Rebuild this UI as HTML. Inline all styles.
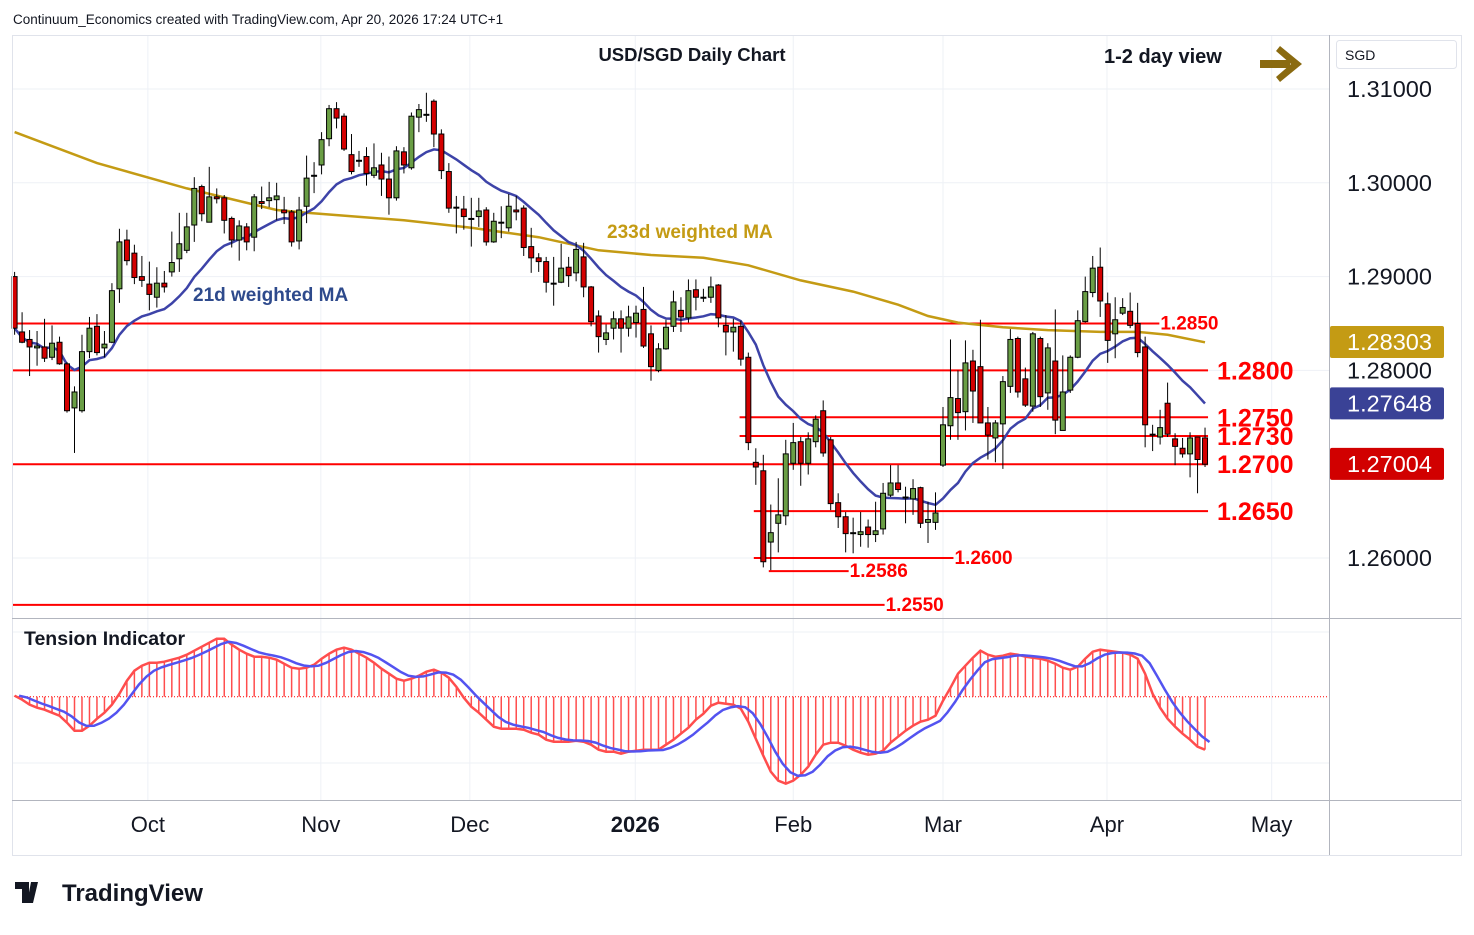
<!DOCTYPE html>
<html><head><meta charset="utf-8"><style>
html,body{margin:0;padding:0;background:#fff;}
body{width:1474px;height:930px;overflow:hidden;font-family:"Liberation Sans",sans-serif;}
svg text{font-family:"Liberation Sans",sans-serif;}
</style></head><body>
<svg id="chart" width="1474" height="930" xmlns="http://www.w3.org/2000/svg">
<rect x="0" y="0" width="1474" height="930" fill="#fff"/>
<text x="13" y="24" font-size="13.5" fill="#131722">Continuum_Economics created with TradingView.com, Apr 20, 2026 17:24 UTC+1</text>
<g id="grid"></g>
<g id="levels"></g>
<g id="mas"></g>
<g id="candles"></g>
<g id="tension"></g>
<rect x="12.5" y="35.5" width="1449" height="820" fill="none" stroke="#e0e3eb"/>
<line x1="1329.5" y1="35" x2="1329.5" y2="855" stroke="#b2b5be"/>
<line x1="12" y1="618.5" x2="1461" y2="618.5" stroke="#b2b5be"/>
<line x1="12" y1="800.5" x2="1461" y2="800.5" stroke="#b2b5be"/>
<text x="692" y="61" font-size="18.5" font-weight="bold" text-anchor="middle" fill="#131722">USD/SGD Daily Chart</text>
<text x="1104" y="63" font-size="20" font-weight="bold" fill="#131722">1-2 day view</text>
<g fill="#8a6a10">
<rect x="1260" y="60" width="30" height="8"/>
<polygon points="1280,46 1302,64 1280,82 1276,77 1291,64 1276,51"/>
</g>
<text x="607" y="238" font-size="19" font-weight="bold" fill="#c49b14">233d weighted MA</text>
<text x="193" y="301" font-size="19" font-weight="bold" fill="#2e4a8c">21d weighted MA</text>
<text x="24" y="645" font-size="19.5" font-weight="bold" fill="#131722">Tension Indicator</text>
<g><rect x="1336.5" y="40.5" width="120" height="28" rx="3" fill="#fff" stroke="#e0e3eb"/><text x="1345" y="60" font-size="14" fill="#131722">SGD</text></g>
<g id="axisy"></g>
<g id="axisx"></g>
<g>
<path d="M15 882h14v21h-7v-14h-7z M31 882h7l-5 21h-6z" fill="#131722"/>
<text x="62" y="901" font-size="24" font-weight="bold" fill="#131722">TradingView</text>
</g>
</svg>
<script>
const opens=[1.2900,1.2841,1.2833,1.2824,1.2825,1.2814,1.2830,1.2807,1.2760,1.2757,1.2820,1.2847,1.2824,1.2830,1.2887,1.2939,1.2925,1.2900,1.2892,1.2878,1.2893,1.2905,1.2919,1.2928,1.2955,1.2996,1.2958,1.2985,1.2984,1.2962,1.2939,1.2953,1.2942,1.2980,1.2981,1.2982,1.2971,1.2969,1.2938,1.2975,1.3008,1.3019,1.3047,1.3079,1.3071,1.3030,1.3024,1.3028,1.3008,1.3019,1.3004,1.2984,1.3033,1.3016,1.3070,1.3073,1.3087,1.3052,1.3012,1.2974,1.2972,1.2962,1.2964,1.2971,1.2937,1.2958,1.2952,1.2971,1.2973,1.2932,1.2920,1.2916,1.2893,1.2894,1.2910,1.2904,1.2921,1.2889,1.2858,1.2833,1.2845,1.2855,1.2845,1.2851,1.2865,1.2839,1.2800,1.2823,1.2847,1.2864,1.2856,1.2886,1.2877,1.2878,1.2891,1.2848,1.2841,1.2847,1.2814,1.2702,1.2693,1.2617,1.2637,1.2645,1.2701,1.2724,1.2701,1.2724,1.2757,1.2726,1.2659,1.2644,1.2627,1.2625,1.2633,1.2625,1.2631,1.2667,1.2680,1.2665,1.2663,1.2675,1.2638,1.2638,1.2699,1.2741,1.2770,1.2756,1.2810,1.2804,1.2744,1.2728,1.2743,1.2783,1.2834,1.2791,1.2762,1.2834,1.2776,1.2810,1.2736,1.2779,1.2814,1.2852,1.2883,1.2910,1.2871,1.2839,1.2861,1.2863,1.2850,1.2825,1.2732,1.2729,1.2765,1.2727,1.2717,1.2711,1.2729,1.2728];
const highs=[1.2905,1.2862,1.2843,1.2842,1.2855,1.2848,1.2836,1.2809,1.2783,1.2838,1.2857,1.2860,1.2842,1.2893,1.2951,1.2950,1.2934,1.2922,1.2916,1.2910,1.2906,1.2948,1.2968,1.2968,1.3006,1.2998,1.3017,1.2994,1.2987,1.2964,1.2960,1.2957,1.2988,1.2996,1.3001,1.3000,1.2985,1.2971,1.2985,1.3029,1.3022,1.3054,1.3083,1.3086,1.3074,1.3052,1.3034,1.3038,1.3042,1.3032,1.3028,1.3039,1.3038,1.3075,1.3084,1.3096,1.3089,1.3057,1.3021,1.2986,1.2986,1.2984,1.2984,1.2974,1.2968,1.2975,1.2988,1.2986,1.2976,1.2952,1.2925,1.2921,1.2921,1.2935,1.2921,1.2937,1.2936,1.2890,1.2864,1.2849,1.2863,1.2864,1.2869,1.2869,1.2889,1.2848,1.2829,1.2854,1.2885,1.2878,1.2897,1.2897,1.2887,1.2900,1.2892,1.2859,1.2855,1.2853,1.2819,1.2717,1.2710,1.2657,1.2685,1.2726,1.2744,1.2729,1.2734,1.2752,1.2768,1.2729,1.2669,1.2649,1.2643,1.2649,1.2641,1.2660,1.2680,1.2699,1.2699,1.2676,1.2684,1.2676,1.2660,1.2670,1.2761,1.2833,1.2800,1.2832,1.2822,1.2854,1.2761,1.2747,1.2794,1.2844,1.2836,1.2803,1.2841,1.2836,1.2829,1.2865,1.2816,1.2816,1.2864,1.2900,1.2922,1.2931,1.2883,1.2878,1.2877,1.2883,1.2872,1.2836,1.2742,1.2758,1.2787,1.2733,1.2728,1.2734,1.2729,1.2739];
const lows=[1.2838,1.2829,1.2794,1.2805,1.2809,1.2811,1.2806,1.2755,1.2712,1.2755,1.2813,1.2816,1.2814,1.2829,1.2872,1.2912,1.2892,1.2889,1.2864,1.2867,1.2883,1.2900,1.2905,1.2925,1.2937,1.2959,1.2958,1.2978,1.2946,1.2931,1.2917,1.2928,1.2927,1.2972,1.2974,1.2960,1.2956,1.2932,1.2929,1.2957,1.2989,1.3009,1.3039,1.3058,1.3034,1.3009,1.3017,1.2997,1.3005,1.2986,1.2966,1.2981,1.3010,1.3014,1.3054,1.3065,1.3038,1.3004,1.2968,1.2946,1.2950,1.2932,1.2953,1.2933,1.2936,1.2941,1.2948,1.2960,1.2922,1.2904,1.2905,1.2883,1.2869,1.2893,1.2889,1.2895,1.2878,1.2847,1.2819,1.2827,1.2833,1.2819,1.2836,1.2835,1.2824,1.2789,1.2798,1.2822,1.2841,1.2841,1.2851,1.2864,1.2873,1.2872,1.2846,1.2816,1.2820,1.2805,1.2715,1.2678,1.2590,1.2587,1.2606,1.2635,1.2694,1.2677,1.2689,1.2718,1.2708,1.2651,1.2632,1.2606,1.2605,1.2612,1.2611,1.2617,1.2625,1.2665,1.2670,1.2637,1.2646,1.2632,1.2616,1.2630,1.2697,1.2726,1.2726,1.2736,1.2744,1.2744,1.2705,1.2702,1.2695,1.2776,1.2771,1.2761,1.2756,1.2761,1.2758,1.2732,1.2736,1.2776,1.2813,1.2851,1.2878,1.2857,1.2808,1.2813,1.2859,1.2845,1.2814,1.2718,1.2714,1.2721,1.2729,1.2699,1.2707,1.2686,1.2669,1.2697];
const closes=[1.2845,1.2830,1.2825,1.2826,1.2813,1.2829,1.2807,1.2757,1.2777,1.2820,1.2845,1.2819,1.2828,1.2885,1.2937,1.2917,1.2899,1.2896,1.2881,1.2893,1.2889,1.2915,1.2935,1.2953,1.2994,1.2967,1.2985,1.2983,1.2960,1.2939,1.2954,1.2937,1.2985,1.2978,1.2984,1.2986,1.2968,1.2937,1.2971,1.3005,1.3008,1.3046,1.3079,1.3069,1.3036,1.3012,1.3024,1.3010,1.3016,1.3004,1.2984,1.3034,1.3019,1.3071,1.3078,1.3073,1.3052,1.3013,1.2973,1.2974,1.2964,1.2962,1.2970,1.2937,1.2959,1.2958,1.2975,1.2969,1.2931,1.2920,1.2916,1.2894,1.2893,1.2909,1.2901,1.2929,1.2889,1.2852,1.2836,1.2840,1.2855,1.2845,1.2857,1.2861,1.2826,1.2804,1.2823,1.2846,1.2873,1.2857,1.2885,1.2878,1.2878,1.2889,1.2856,1.2841,1.2846,1.2812,1.2723,1.2697,1.2596,1.2627,1.2646,1.2711,1.2723,1.2701,1.2727,1.2748,1.2712,1.2658,1.2644,1.2626,1.2627,1.2628,1.2625,1.2629,1.2669,1.2680,1.2673,1.2664,1.2674,1.2637,1.2641,1.2648,1.2742,1.2771,1.2755,1.2808,1.2778,1.2744,1.2731,1.2744,1.2788,1.2833,1.2777,1.2763,1.2839,1.2772,1.2824,1.2747,1.2777,1.2814,1.2853,1.2884,1.2909,1.2874,1.2832,1.2854,1.2867,1.2848,1.2819,1.2742,1.2732,1.2739,1.2732,1.2719,1.2711,1.2728,1.2705,1.2700];
const ma233Idx=[0,11,23,35,39,52,61,70,78,85,92,98,105,112,118,122,126,132,138,145,150,154,159];
const ma233Val=[1.3054,1.3021,1.2994,1.2971,1.2968,1.2960,1.2952,1.2942,1.2928,1.2923,1.2920,1.2912,1.2896,1.2884,1.2870,1.2858,1.2851,1.2846,1.2843,1.2841,1.2841,1.2838,1.2830];
const tension=[1,-3,-8,-11,-13,-16,-19,-26,-34,-34,-29,-22,-16,-8,3,16,26,31,34,34,35,37,39,42,46,50,54,58,58,52,47,43,40,40,39,37,33,29,28,29,32,38,43,47,49,47,43,39,34,28,23,18,16,18,21,25,27,24,19,10,-1,-10,-16,-23,-30,-32,-32,-32,-33,-36,-38,-43,-45,-45,-45,-44,-45,-48,-53,-55,-55,-57,-55,-54,-53,-53,-53,-48,-43,-37,-31,-23,-17,-9,-6,-7,-8,-12,-25,-42,-59,-75,-84,-87,-84,-78,-70,-58,-48,-46,-46,-49,-53,-56,-58,-57,-54,-46,-40,-34,-29,-25,-23,-19,-4,9,23,31,39,46,42,40,41,43,42,40,39,38,36,33,29,27,30,38,45,47,46,45,44,42,38,23,3,-11,-22,-30,-37,-43,-50,-53];
const priceTicks=[1.31,1.30,1.29,1.28,1.26];
const priceTickLabels=["1.31000","1.30000","1.29000","1.28000","1.26000"];
const monthLabels=["Oct","Nov","Dec","2026","Feb","Mar","Apr","May"];
const monthIdx=[17.8,40.9,60.8,82.9,104,124,145.9,167.9];
const levelVals=[1.2850,1.2800,1.2750,1.2730,1.2700,1.2650,1.2600,1.2586,1.2550];
const levelLabels=["1.2850","1.2800","1.2750","1.2730","1.2700","1.2650","1.2600","1.2586","1.2550"];
const levelFrom=[0,0,97.1,97.1,0,99,99,101,0];
const levelTo=[152.5,159,159,159,159,159,125,111,115.8];
const tagVals=[1.28303,1.27648,1.27004];
const tagLabels=["1.28303","1.27648","1.27004"];

const NS="http://www.w3.org/2000/svg";
function X(i){return 14.6+i*7.487;}
function Y(p){return 89+(1.31-p)*9380;}
function TY(v){return 696.7-v;}
function mk(tag,attrs,parent){const e=document.createElementNS(NS,tag);for(const k in attrs)e.setAttribute(k,attrs[k]);parent.appendChild(e);return e;}
const G=id=>document.getElementById(id);

const grid=G('grid');
priceTicks.forEach(p=>{const l=mk('line',{x1:12,x2:1329,y1:Y(p),y2:Y(p),stroke:'#eef1f6'},grid);

});
[632,763].forEach(y=>{const l=mk('line',{x1:12,x2:1329,y1:y,y2:y,stroke:'#eef1f6'},grid);

});
monthIdx.forEach(i=>{const l=mk('line',{x1:X(i),x2:X(i),y1:36,y2:800,stroke:'#eef1f6'},grid);

});

const lv=G('levels');
levelVals.forEach((v,k)=>{const y=Y(v);
const l=mk('line',{x1:X(levelFrom[k])-2,x2:X(levelTo[k])+3,y1:y,y2:y,stroke:'#ff0000','stroke-width':2},lv);


const big=(k>=1&&k<=5);
const t=mk('text',{x:X(levelTo[k])+(big?12:4),y:y+(big?9:6),'font-size':big?25:19,'font-weight':'bold',fill:'#ff0000'},lv);
t.textContent=levelLabels[k];

});

const mas=G('mas');
let d='';ma233Idx.forEach((i,k)=>{d+=(k?'L':'M')+X(i).toFixed(1)+' '+Y(ma233Val[k]).toFixed(1);});
const m2=mk('path',{d:d,fill:'none',stroke:'#c49b14','stroke-width':2.5},mas);


const wma=closes.map((c,i)=>{const n=Math.min(21,i+1);let s=0,w=0;for(let k=0;k<n;k++){s+=(n-k)*closes[i-k];w+=(n-k);}return s/w;});
d='';wma.forEach((v,i)=>{d+=(i?'L':'M')+X(i).toFixed(1)+' '+Y(v).toFixed(1);});
const m1=mk('path',{d:d,fill:'none',stroke:'#3d43a8','stroke-width':2.5},mas);



const cg=G('candles');
closes.forEach((c,i)=>{const o=opens[i],x=X(i);const up=c>=o;
const g=mk('g',{},cg);


mk('line',{x1:x,x2:x,y1:Y(highs[i]),y2:Y(lows[i]),stroke:'#000','stroke-width':1},g);
const top=Y(Math.max(o,c)),bot=Y(Math.min(o,c));
mk('rect',{x:x-2.5,y:top,width:5,height:Math.max(1,bot-top),fill:up?'#6a9e45':'#d40000',stroke:'#000','stroke-width':1},g);});

const tg=G('tension');
const z=TY(0);
const zl=mk('line',{x1:12,x2:1329,y1:z,y2:z,stroke:'#ff0000','stroke-width':1,'stroke-dasharray':'1,2'},tg);


tension.forEach((v,i)=>{const b=mk('line',{x1:X(i),x2:X(i),y1:z,y2:TY(v),stroke:'#ff4d4d','stroke-width':1.5},tg);

});
const sig=[];tension.forEach((v,i)=>{sig.push(i?sig[i-1]+0.42*(v-sig[i-1]):v);});
d='';tension.forEach((v,i)=>{d+=(i?'L':'M')+X(i).toFixed(1)+' '+TY(v).toFixed(1);});
const tl=mk('path',{d:d,fill:'none',stroke:'#ff4d4d','stroke-width':2.5},tg);


d='';sig.forEach((v,i)=>{d+=(i?'L':'M')+X(i+0.6).toFixed(1)+' '+TY(v).toFixed(1);});
const sl=mk('path',{d:d,fill:'none',stroke:'#5353f0','stroke-width':2.5},tg);



const ay=G('axisy');
priceTicks.forEach((p,k)=>{const t=mk('text',{x:1347,y:Y(p)+8,'font-size':23.5,fill:'#131722'},ay);
t.textContent=priceTickLabels[k];

});
const tagCols=['#c49b14','#3a4296','#d10000'];
tagVals.forEach((v,k)=>{const y=Y(v);
const r=mk('rect',{x:1330,y:y-16,width:114,height:32,rx:2,fill:tagCols[k]},ay);


const t=mk('text',{x:1347,y:y+8,'font-size':23.5,fill:'#fff'},ay);
t.textContent=tagLabels[k];

});

const ax=G('axisx');
monthLabels.forEach((m,k)=>{const t=mk('text',{x:X(monthIdx[k]),y:832,'font-size':22,'text-anchor':'middle',fill:'#131722','font-weight':m==='2026'?'bold':'normal'},ax);
t.textContent=m;

});
</script>
</body></html>
